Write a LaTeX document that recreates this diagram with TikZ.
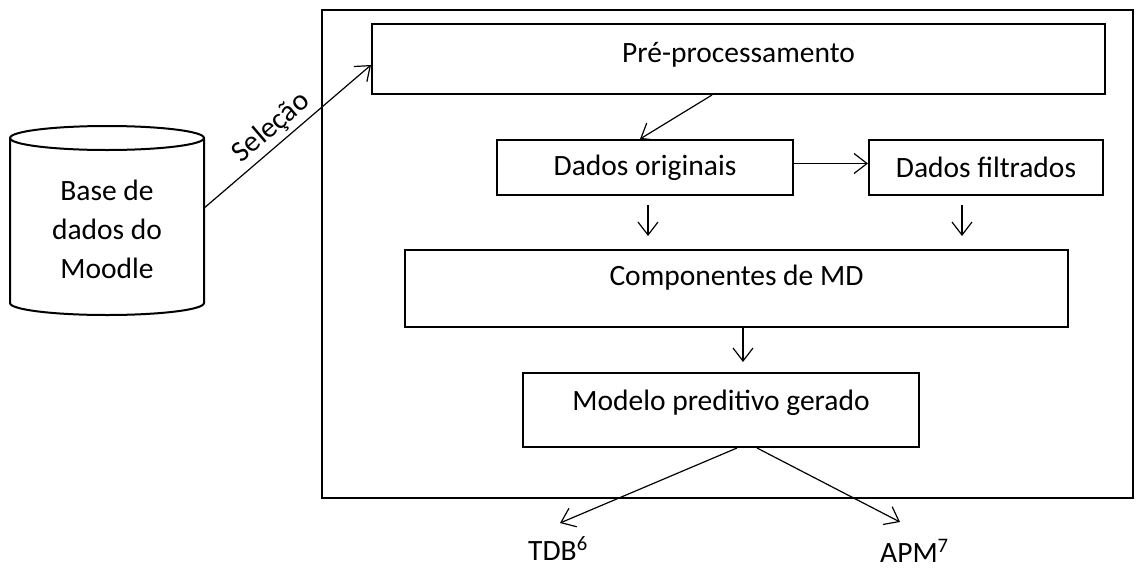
\documentclass[tikz,border=0pt]{standalone}
\usepackage{fontspec}
\setmainfont{Carlito}
\usetikzlibrary{arrows.meta}
\tikzset{
  box/.style={draw, line width=2pt, rectangle, inner sep=0pt},
  arr/.style={line width=1.2pt, -{Straight Barb[length=13pt,width=20pt,line width=1.2pt]}},
  lbl/.style={font=\fontsize{29.5}{34}\selectfont, inner sep=0pt},
}
\begin{document}
\begin{tikzpicture}[x=1pt,y=-1pt,font=\fontsize{29.5}{34}\selectfont]
\useasboundingbox (0,0) rectangle (1137,568);
% outer frame
\node[box, minimum width=811pt, minimum height=488pt] (frame) at (727.5,254) {};
% database cylinder
\node[inner sep=0pt, minimum width=194pt, minimum height=190pt, align=center] (db) at (107,229)
  {Base de\\[5pt]dados do\\[5pt]Moodle};
\draw[line width=2pt] (10,138) arc[start angle=180, end angle=-180, x radius=97, y radius=12];
\draw[line width=2pt] (10,138) -- (10,303) arc[start angle=180, end angle=360, x radius=97, y radius=-12] -- (204,138);
% boxes
\node[box, minimum width=733pt, minimum height=70pt] (pre) at (738.5,59) {};
\node[lbl] at ([yshift=4pt]pre.center) {Pré-processamento};
\node[box, minimum width=296pt, minimum height=55pt] (orig) at (645,167.5) {Dados originais};
\node[box, minimum width=234pt, minimum height=55pt] (filt) at (986,167.5) {Dados filtrados};
\node[box, minimum width=663pt, minimum height=77pt] (comp) at (736.5,288.5) {};
\node[lbl] at ([yshift=11pt]comp.center) {Componentes de MD};
\node[box, minimum width=396pt, minimum height=74pt] (model) at (721,410) {};
\node[lbl] at ([yshift=7pt]model.center) {Modelo preditivo gerado};
\node[lbl, anchor=base west] (tdb) at (528,560) {TDB\textsuperscript{6}};
\node[lbl, anchor=base west] (apm) at (880,562) {APM\textsuperscript{7}};
% connectors
\draw[arr] ([yshift=21pt]db.east) -- node[pos=0.47, above=4pt, sloped, lbl] {Seleção} ([yshift=-6pt]pre.west);
\draw[arr] ([xshift=-26.5pt]pre.south) -- ([xshift=-5pt]orig.north);
\draw[arr] ([yshift=4pt]orig.east) -- ([yshift=4pt]filt.west);
\draw[arr, shorten <=9pt, shorten >=13pt] ([xshift=3pt]orig.south) -- ([xshift=3pt]orig.south |- comp.north);
\draw[arr, shorten <=9pt, shorten >=13pt] ([xshift=-24pt]filt.south) -- ([xshift=-24pt]filt.south |- comp.north);
\draw[arr, shorten >=10pt] ([xshift=6.5pt]comp.south) -- ([xshift=6.5pt]comp.south |- model.north);
\draw[arr] ([xshift=16pt]model.south) -- ([xshift=32pt,yshift=37pt]tdb.base west);
\draw[arr] ([xshift=36pt]model.south) -- ([xshift=20pt,yshift=40pt]apm.base west);
\end{tikzpicture}
\end{document}
